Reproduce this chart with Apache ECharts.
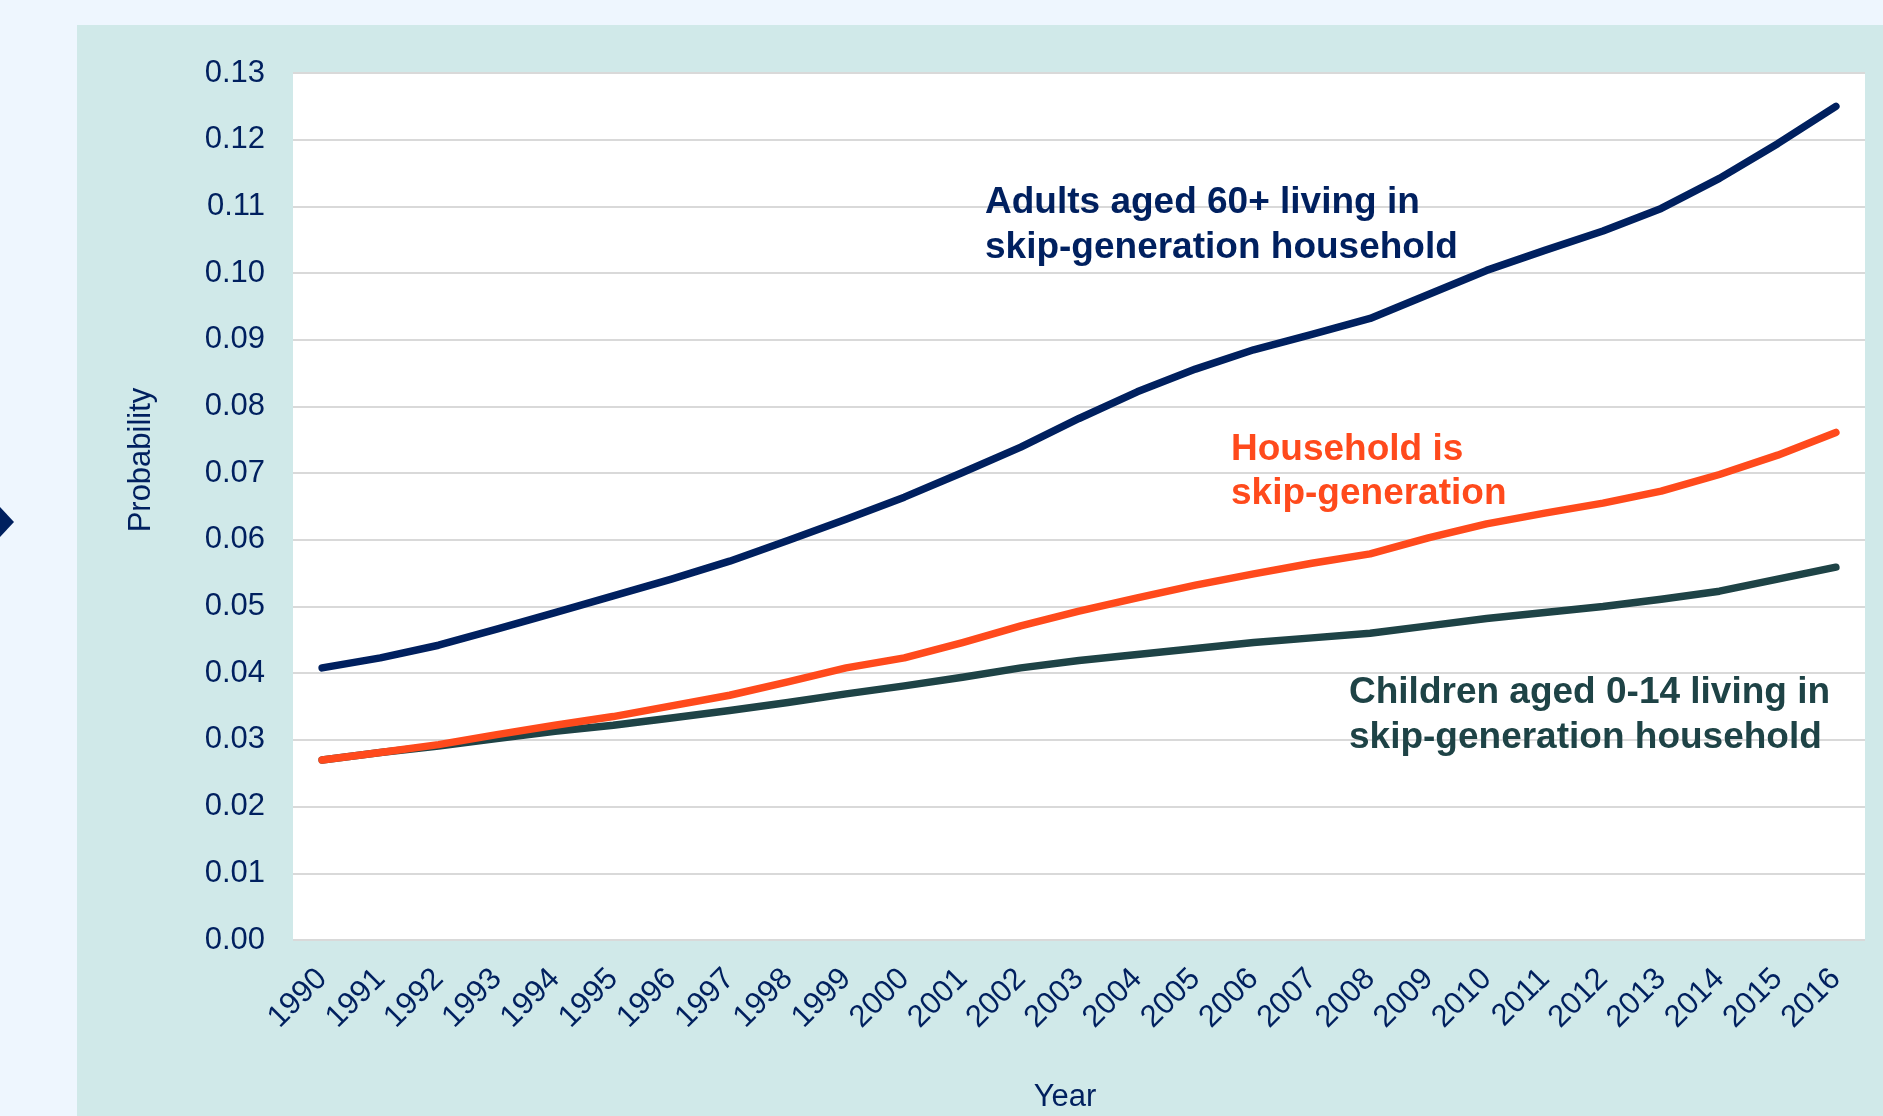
<!DOCTYPE html>
<html>
<head>
<meta charset="utf-8">
<script src="https://cdn.jsdelivr.net/npm/echarts@6/dist/echarts.min.js"></script>
<style>
  html, body { margin: 0; padding: 0; background: #EEF6FE; }
  #panel { position: absolute; left: 77px; top: 25px; right: 0; bottom: 0; background: #D0E9E9; }
  #chart { position: absolute; left: 0; top: 0; width: 1883px; height: 1116px; }
</style>
</head>
<body>
<div id="panel"></div>
<div id="chart"></div>
<script>
const years = ['1990','1991','1992','1993','1994','1995','1996','1997','1998','1999','2000','2001','2002','2003','2004','2005','2006','2007','2008','2009','2010','2011','2012','2013','2014','2015','2016'];
const adults60 = [0.0408,0.0423,0.0442,0.0466,0.0491,0.0516,0.0541,0.0568,0.0599,0.0631,0.0664,0.0701,0.0739,0.0782,0.0822,0.0856,0.0885,0.0908,0.0932,0.0968,0.1004,0.1034,0.1063,0.1097,0.1142,0.1194,0.1250];
const householdSkip = [0.0270,0.0281,0.0293,0.0308,0.0322,0.0335,0.0351,0.0367,0.0387,0.0408,0.0423,0.0446,0.0471,0.0493,0.0513,0.0532,0.0549,0.0565,0.0579,0.0603,0.0624,0.0640,0.0655,0.0673,0.0698,0.0727,0.0761];
const children014 = [0.0270,0.0281,0.0291,0.0302,0.0313,0.0322,0.0333,0.0344,0.0356,0.0369,0.0381,0.0394,0.0408,0.0419,0.0428,0.0437,0.0446,0.0453,0.0460,0.0471,0.0482,0.0491,0.0500,0.0511,0.0523,0.0541,0.0559];
const yMin = 0, yMax = 0.13, yStep = 0.01;
const labelAdults = 'Adults aged 60+ living in\nskip-generation household';
const labelHousehold = 'Household is\nskip-generation';
const labelChildren = 'Children aged 0-14 living in\nskip-generation household';
const xName = 'Year';
const yName = 'Probability';

const NAVY = '#00205F', ORANGE = '#FF4A1C', TEAL = '#1E4346';
const FONT = "'Liberation Sans', Arial, sans-serif";

const chart = echarts.init(document.getElementById('chart'), null, { renderer: 'canvas' });
const lineSeries = (name, data, color) => ({
  name, type: 'line', data, smooth: false, symbol: 'none',
  lineStyle: { color, width: 7.5, cap: 'round', join: 'round' },
  itemStyle: { color }, z: 3
});
chart.setOption({
  backgroundColor: 'transparent',
  animation: false,
  textStyle: { fontFamily: FONT },
  grid: { left: 293, top: 73, right: 18, bottom: 176, containLabel: false, show: true, backgroundColor: '#FFFFFF', borderWidth: 0 },
  xAxis: {
    type: 'category', data: years, boundaryGap: true,
    axisLine: { show: false }, axisTick: { show: false },
    axisLabel: { rotate: 45, fontSize: 31, color: NAVY, margin: 34, fontFamily: FONT, interval: 0 }
  },
  yAxis: {
    type: 'value', min: yMin, max: yMax, interval: yStep,
    axisLine: { show: false }, axisTick: { show: false },
    axisLabel: { fontSize: 31, color: NAVY, margin: 28, fontFamily: FONT, formatter: v => v.toFixed(2) },
    splitLine: { show: true, lineStyle: { color: '#D9D9D9', width: 2 } }
  },
  series: [
    lineSeries('Children aged 0-14 living in skip-generation household', children014, TEAL),
    lineSeries('Household is skip-generation', householdSkip, ORANGE),
    lineSeries('Adults aged 60+ living in skip-generation household', adults60, NAVY)
  ],
  graphic: [
    { type: 'polygon', shape: { points: [[-14, 522], [0, 507], [14, 522], [0, 537]] }, style: { fill: NAVY } },
    { type: 'text', x: 141, y: 460, rotation: Math.PI / 2,
      style: { text: yName, font: '31px ' + FONT, fill: NAVY, textAlign: 'center', textVerticalAlign: 'middle' } },
    { type: 'text', x: 1065, y: 1097,
      style: { text: xName, font: '31px ' + FONT, fill: NAVY, textAlign: 'center', textVerticalAlign: 'middle' } },
    { type: 'text', x: 985, y: 180, z: 10,
      style: { text: labelAdults, font: 'bold 37px ' + FONT, lineHeight: 45, fill: NAVY, textAlign: 'left', textVerticalAlign: 'top' } },
    { type: 'text', x: 1231, y: 427.5, z: 10,
      style: { text: labelHousehold, font: 'bold 37px ' + FONT, lineHeight: 44, fill: ORANGE, textAlign: 'left', textVerticalAlign: 'top' } },
    { type: 'text', x: 1349, y: 670.5, z: 10,
      style: { text: labelChildren, font: 'bold 37px ' + FONT, lineHeight: 45, fill: TEAL, textAlign: 'left', textVerticalAlign: 'top' } }
  ]
});
</script>
</body>
</html>
